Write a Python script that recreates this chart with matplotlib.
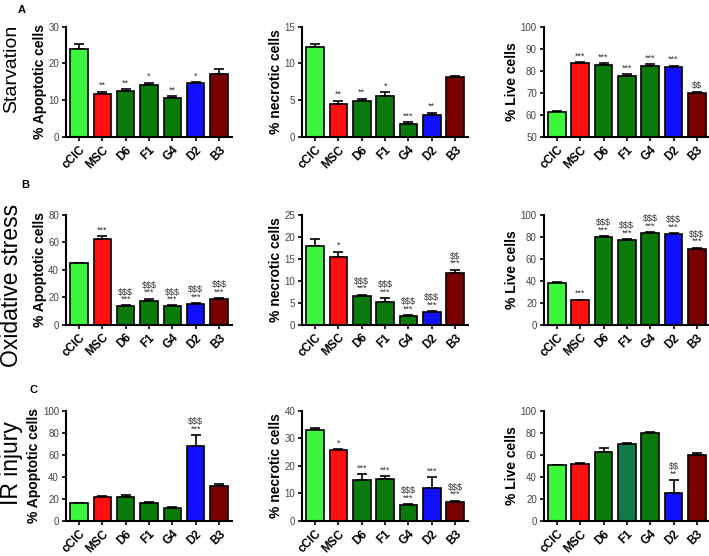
import matplotlib
matplotlib.use("Agg")
from matplotlib import pyplot as plt

plt.rcParams['font.family'] = ['Liberation Sans', 'DejaVu Sans']
plt.rcParams['text.parse_math'] = False

groups = ["cCIC", "MSC", "D6", "F1", "G4", "D2", "B3"]
colors = ["#3cf53c", "#ff1010", "#0a7a0a", "#0a7a0a", "#0a7a0a", "#1010ff", "#7a0000"]
colors_ir_live = ["#3cf53c", "#ff1010", "#0a7a0a", "#0f7a4a", "#0a7a0a", "#1010ff", "#7a0000"]

# starvation
starv_apop = [24.0, 11.7, 12.4, 14.0, 10.6, 14.6, 17.0]
starv_apop_err = [1.2, 0.6, 0.6, 0.7, 0.5, 0.3, 1.5]
starv_apop_sig = ["", "**", "**", "*", "**", "*", ""]
starv_necr = [12.2, 4.4, 4.9, 5.6, 1.8, 3.0, 8.1]
starv_necr_err = [0.4, 0.5, 0.3, 0.5, 0.15, 0.3, 0.2]
starv_necr_sig = ["", "**", "**", "*", "***", "**", ""]
starv_live = [61.2, 83.3, 82.5, 77.8, 82.3, 81.5, 69.7]
starv_live_err = [0.5, 0.5, 0.8, 0.5, 0.6, 0.8, 0.8]
starv_live_sig = ["", "***", "***", "***", "***", "***", "$$"]

# oxidative stress
ox_apop = [44.5, 62.5, 13.5, 17.0, 13.5, 15.0, 19.0]
ox_apop_err = [0.5, 2.0, 0.5, 2.0, 0.5, 0.8, 0.3]
ox_apop_sig = ["", "***", "$$$\n***", "$$$\n***", "$$$\n***", "$$$\n***", "$$$\n***"]
ox_necr = [17.8, 15.4, 6.5, 5.2, 1.9, 2.8, 11.8]
ox_necr_err = [1.6, 1.2, 0.3, 0.8, 0.3, 0.3, 0.7]
ox_necr_sig = ["", "*", "$$$\n***", "$$$\n***", "$$$\n***", "$$$\n***", "$$\n***"]
ox_live = [38.0, 22.0, 79.5, 76.5, 83.5, 82.5, 69.0]
ox_live_err = [1.0, 0.7, 0.8, 1.0, 0.6, 0.7, 1.0]
ox_live_sig = ["", "***", "$$$\n***", "$$$\n***", "$$$\n***", "$$$\n***", "$$$\n***"]

# IR injury
ir_apop = [16.0, 22.0, 21.5, 16.0, 12.0, 68.0, 32.0]
ir_apop_err = [0.3, 0.5, 2.0, 1.0, 0.5, 10.0, 2.0]
ir_apop_sig = ["", "", "", "", "", "$$$\n***", ""]
ir_necr = [33.0, 25.7, 14.8, 15.3, 5.7, 12.0, 7.0]
ir_necr_err = [0.7, 0.4, 2.3, 1.0, 0.5, 4.0, 0.4]
ir_necr_sig = ["", "*", "***", "***", "$$$\n***", "***", "$$$\n***"]
ir_live = [50.5, 52.0, 63.0, 70.0, 80.0, 25.0, 60.0]
ir_live_err = [0.3, 0.5, 3.5, 1.0, 0.6, 12.0, 1.5]
ir_live_sig = ["", "", "", "", "", "$$\n**", ""]

panels = [
    [(starv_apop, starv_apop_err, starv_apop_sig, "% Apoptotic cells", (0, 30), 10, colors),
     (starv_necr, starv_necr_err, starv_necr_sig, "% necrotic cells", (0, 15), 5, colors),
     (starv_live, starv_live_err, starv_live_sig, "% Live cells", (50, 100), 10, colors)],
    [(ox_apop, ox_apop_err, ox_apop_sig, "% Apoptotic cells", (0, 80), 20, colors),
     (ox_necr, ox_necr_err, ox_necr_sig, "% necrotic cells", (0, 25), 5, colors),
     (ox_live, ox_live_err, ox_live_sig, "% Live cells", (0, 100), 20, colors)],
    [(ir_apop, ir_apop_err, ir_apop_sig, "% Apoptotic cells", (0, 100), 20, colors),
     (ir_necr, ir_necr_err, ir_necr_sig, "% necrotic cells", (0, 40), 10, colors),
     (ir_live, ir_live_err, ir_live_sig, "% Live cells", (0, 100), 20, colors_ir_live)],
]

row_titles = ["Starvation", "Oxidative stress", "IR injury"]
row_letters = ["A", "B", "C"]

fig = plt.figure(figsize=(7.09, 5.56), dpi=100)

lefts = [0.093, 0.426, 0.767]
bottoms = [0.754, 0.416, 0.063]
width = 0.234
height = 0.198

x = list(range(len(groups)))
for r in range(3):
    for c in range(3):
        vals, errs, sigs, ylabel, ylim, step, cols = panels[r][c]
        ax = fig.add_axes([lefts[c], bottoms[r], width, height])
        ax.bar(x, [v - ylim[0] for v in vals], bottom=ylim[0], width=0.75,
               color=cols, edgecolor="black", linewidth=1.2, zorder=2)
        ax.errorbar(x, vals, yerr=[[0] * len(errs), errs], fmt="none",
                    ecolor="black", elinewidth=1.2, capsize=3.5, capthick=1.2, zorder=1)
        span = ylim[1] - ylim[0]
        for i in range(len(vals)):
            if sigs[i]:
                ax.text(x[i], vals[i] + errs[i] + span * 0.015, sigs[i], ha="center", va="bottom",
                        fontsize=6.5, color="#333333", linespacing=0.75)
        ax.set_xlim(-0.56, 6.55)
        ax.set_ylim(*ylim)
        ax.set_yticks(range(ylim[0], ylim[1] + 1, step))
        ax.set_xticks(x)
        ax.set_xticklabels(groups, rotation=45, ha="right", rotation_mode="anchor",
                           fontsize=8.5, fontweight="bold")
        ax.tick_params(axis="y", labelsize=7, labelcolor="#444444", length=3, width=1.2, pad=2)
        ax.tick_params(axis="x", length=3, width=1.2, pad=2)
        ax.set_ylabel(ylabel, fontsize=10, fontweight="bold", labelpad=1)
        for s in ["top", "right"]:
            ax.spines[s].set_visible(False)
        for s in ["left", "bottom"]:
            ax.spines[s].set_linewidth(1.5)

fig.text(0.016, 0.876, row_titles[0], rotation=90, ha="center", va="center", fontsize=14)
fig.text(0.016, 0.486, row_titles[1], rotation=90, ha="center", va="center", fontsize=16.5)
fig.text(0.016, 0.167, row_titles[2], rotation=90, ha="center", va="center", fontsize=16.5)

fig.text(0.031, 0.982, row_letters[0], fontsize=8, fontweight="bold", ha="center", va="center")
fig.text(0.035, 0.667, row_letters[1], fontsize=8, fontweight="bold", ha="center", va="center")
fig.text(0.047, 0.298, row_letters[2], fontsize=8, fontweight="bold", ha="center", va="center")

fig.savefig("out.png", dpi=100)
